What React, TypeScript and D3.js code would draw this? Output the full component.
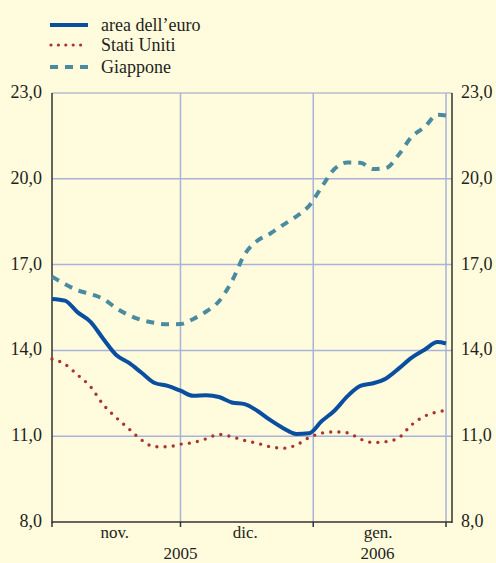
import React from "react";
import * as d3 from "d3";

const W = 496;
const H = 563;

// dates every 3 days from 1 Nov 2005, plus 1 Feb 2006
const dayOffsets = [0, 3, 6, 9, 12, 15, 18, 21, 24, 27, 30, 33, 36, 39, 42, 45, 48, 51, 54, 57, 60, 63, 66, 69, 72, 75, 78, 81, 84, 87, 90, 92];
const startDate = new Date(2005, 10, 1);
const dates = dayOffsets.map((d) => d3.timeDay.offset(startDate, d));

const euroArea = [15.80, 15.74, 15.33, 15.00, 14.40, 13.84, 13.56, 13.21, 12.86, 12.76, 12.59, 12.41, 12.43, 12.37, 12.18, 12.12, 11.88, 11.56, 11.28, 11.08, 11.10, 11.53, 11.90, 12.40, 12.76, 12.85, 13.02, 13.37, 13.75, 14.02, 14.29, 14.24];
const statiUniti = [13.70, 13.52, 13.14, 12.73, 12.10, 11.65, 11.25, 10.86, 10.63, 10.63, 10.72, 10.78, 10.91, 11.06, 10.98, 10.85, 10.75, 10.63, 10.58, 10.69, 10.95, 11.11, 11.15, 11.12, 10.90, 10.78, 10.81, 10.95, 11.40, 11.70, 11.85, 11.90];
const giappone = [16.58, 16.32, 16.10, 15.97, 15.80, 15.48, 15.23, 15.06, 14.96, 14.91, 14.92, 15.10, 15.36, 15.72, 16.42, 17.36, 17.84, 18.09, 18.39, 18.68, 19.05, 19.72, 20.35, 20.57, 20.56, 20.34, 20.38, 20.85, 21.47, 21.81, 22.24, 22.21];

const yTicks = [8, 11, 14, 17, 20, 23];
const monthStarts = [new Date(2005, 10, 1), new Date(2005, 11, 1), new Date(2006, 0, 1), new Date(2006, 1, 1)];
const monthLabels = ["nov.", "dic.", "gen."];
const yearLabels = [
  { label: "2005", date: new Date(2005, 11, 1) },
  { label: "2006", date: new Date(2006, 0, 16) },
];

const seriesNames = ["area dell\u2019euro", "Stati Uniti", "Giappone"];

export default function App() {
  const left = 52;
  const right = 446;
  const axisRight = 452;
  const top = 93;
  const bottom = 522;

  const x = d3.scaleTime().domain([monthStarts[0], monthStarts[3]]).range([left, right]);
  const y = d3.scaleLinear().domain([8, 23]).range([bottom, top]);

  const line = d3
    .line<number>()
    .x((_, i) => x(dates[i]))
    .y((d) => y(d))
    .curve(d3.curveMonotoneX);

  const fmt = (v: number) => v.toFixed(1).replace(".", ",");
  const tStyle = { fontFamily: "Liberation Serif", fontSize: 18 };
  const bStyle = { fontFamily: "Liberation Serif", fontSize: 17 };
  const gridColor = "#a9b3d9";
  const euroColor = "#0a4f9f";
  const usColor = "#ab3433";
  const jpColor = "#4a8ba0";
  const textColor = "#231f20";

  const legendY = [25, 45, 67];

  return (
    <div style={{ position: "fixed", left: 0, top: 0, width: W, height: H, background: "#fffbdc" }}>
      <svg width={W} height={H} style={{ display: "block" }}>
        <rect x={0} y={0} width={W} height={H} fill="#fffbdc" />

        {/* legend */}
        <line x1={50} x2={88} y1={legendY[0]} y2={legendY[0]} stroke={euroColor} strokeWidth={4} />
        <line x1={51} x2={88} y1={legendY[1]} y2={legendY[1]} stroke={usColor} strokeWidth={3.2} strokeLinecap="round" strokeDasharray="0 7.4" />
        <line x1={50} x2={88} y1={legendY[2]} y2={legendY[2]} stroke={jpColor} strokeWidth={4} strokeDasharray="8 7" />
        {seriesNames.map((n, i) => (
          <text key={n} x={101} y={legendY[i] + 5.5} style={tStyle} fill={textColor}>
            {n}
          </text>
        ))}

        {/* horizontal grid */}
        {yTicks.filter((t) => t > 8).map((t) => (
          <line key={t} x1={left} x2={axisRight} y1={y(t)} y2={y(t)} stroke={t === 23 ? "#b8bcc8" : gridColor} strokeWidth={1.5} />
        ))}
        {/* vertical grid */}
        {monthStarts.slice(1).map((d, i) => (
          <line key={i} x1={x(d)} x2={x(d)} y1={top} y2={bottom} stroke={gridColor} strokeWidth={1.5} />
        ))}

        {/* axes */}
        <line x1={left} x2={left} y1={top} y2={bottom + 1} stroke="#333" strokeWidth={1.5} />
        <line x1={axisRight} x2={axisRight} y1={top} y2={bottom + 1} stroke="#333" strokeWidth={1.5} />
        <line x1={left} x2={axisRight} y1={bottom} y2={bottom} stroke="#333" strokeWidth={1.5} />
        {monthStarts.map((d, i) => (
          <line key={i} x1={x(d)} x2={x(d)} y1={bottom} y2={bottom + 5} stroke="#333" strokeWidth={1.5} />
        ))}

        {/* y labels */}
        {yTicks.map((t) => (
          <g key={t}>
            <text x={42} y={y(t) + 5} textAnchor="end" style={tStyle} fill={textColor}>
              {fmt(t)}
            </text>
            <text x={461} y={y(t) + 5} textAnchor="start" style={tStyle} fill={textColor}>
              {fmt(t)}
            </text>
          </g>
        ))}

        {/* x labels */}
        {monthLabels.map((m, i) => {
          const mid = (x(monthStarts[i]) + x(monthStarts[i + 1])) / 2;
          return (
            <text key={m} x={mid - 1.5} y={538} textAnchor="middle" style={bStyle} fill={textColor}>
              {m}
            </text>
          );
        })}
        {yearLabels.map((yl) => (
          <text key={yl.label} x={x(yl.date)} y={559} textAnchor="middle" style={bStyle} fill={textColor}>
            {yl.label}
          </text>
        ))}

        {/* series */}
        <path d={line(giappone) || ""} fill="none" stroke={jpColor} strokeWidth={4} strokeDasharray="8 7" />
        <path d={line(statiUniti) || ""} fill="none" stroke={usColor} strokeWidth={3.4} strokeLinecap="round" strokeDasharray="0 8.2" />
        <path d={line(euroArea) || ""} fill="none" stroke={euroColor} strokeWidth={4} strokeLinejoin="round" />
      </svg>
    </div>
  );
}
